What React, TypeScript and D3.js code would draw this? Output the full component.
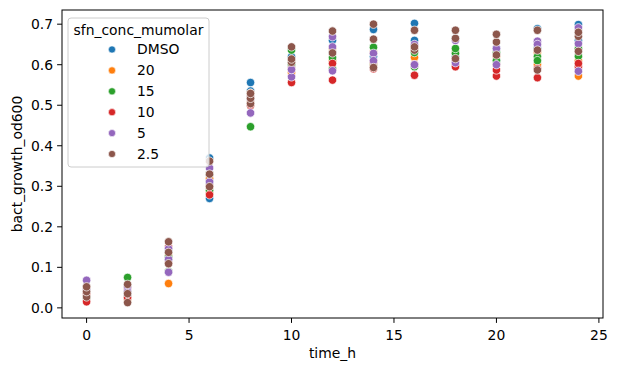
import React from "react";
import * as d3 from "d3";

// sampling times (h)
const times = [0, 2, 4, 6, 8, 10, 12, 14, 16, 18, 20, 22, 24];

// legend order = hue order
const groups = ["DMSO", "20", "15", "10", "5", "2.5"];
const colors = ["#1f77b4", "#ff7f0e", "#2ca02c", "#d62728", "#9467bd", "#8c564b"];

// replicate OD600 readings, one inner list per time point
const dmso = [
  [0.03, 0.045], [0.03, 0.05], [0.12, 0.14], [0.27, 0.37, 0.31], [0.556, 0.535, 0.52],
  [0.6, 0.62], [0.63, 0.66], [0.687, 0.62], [0.702, 0.66], [0.665, 0.62],
  [0.64, 0.61], [0.689, 0.64], [0.699, 0.66],
];
const conc20 = [
  [0.035, 0.05], [0.02, 0.045], [0.06, 0.13], [0.285, 0.32], [0.51, 0.53],
  [0.58, 0.61], [0.61, 0.64], [0.6, 0.63], [0.618, 0.64], [0.6, 0.63],
  [0.6, 0.62], [0.6, 0.63], [0.572, 0.61],
];
const conc15 = [
  [0.025, 0.04], [0.075, 0.04], [0.09, 0.125], [0.29, 0.33], [0.447, 0.5],
  [0.636, 0.6], [0.617, 0.59], [0.643, 0.605], [0.595, 0.63], [0.628, 0.64],
  [0.61, 0.63], [0.62, 0.61], [0.621, 0.64],
];
const conc10 = [
  [0.015, 0.035], [0.025, 0.05], [0.11, 0.15], [0.279, 0.3], [0.5, 0.52],
  [0.556, 0.59], [0.562, 0.603], [0.59, 0.607], [0.574, 0.6], [0.595, 0.61],
  [0.572, 0.587], [0.568, 0.59], [0.595, 0.603],
];
const conc5 = [
  [0.068, 0.045], [0.052, 0.04], [0.088, 0.146, 0.12], [0.311, 0.345], [0.481, 0.515],
  [0.57, 0.588], [0.585, 0.644, 0.669], [0.628, 0.61], [0.6, 0.65], [0.605, 0.66],
  [0.6, 0.64], [0.658, 0.65], [0.584, 0.652, 0.691],
];
const conc2_5 = [
  [0.027, 0.04, 0.052], [0.013, 0.035, 0.058], [0.109, 0.137, 0.163], [0.299, 0.33, 0.362],
  [0.504, 0.517, 0.529], [0.606, 0.614, 0.644], [0.629, 0.683], [0.593, 0.663, 0.7],
  [0.636, 0.644, 0.685], [0.615, 0.665, 0.685], [0.624, 0.656, 0.675], [0.587, 0.636, 0.685],
  [0.633, 0.67, 0.68],
];
const series = [dmso, conc20, conc15, conc10, conc5, conc2_5];

const xTicks = [0, 5, 10, 15, 20, 25];
const yTicks = [0.0, 0.1, 0.2, 0.3, 0.4, 0.5, 0.6, 0.7];

const W = 618;
const H = 371;
const m = { left: 62, right: 603, top: 10, bottom: 318 };
const font = "DejaVu Sans, sans-serif";

export default function App() {
  const x = d3.scaleLinear().domain([-1.2, 25.2]).range([m.left, m.right]);
  const y = d3.scaleLinear().domain([-0.025, 0.735]).range([m.bottom, m.top]);

  const points: { t: number; v: number; g: number }[] = [];
  times.forEach((t, ti) => {
    series.forEach((s, gi) => {
      s[ti].forEach((v) => points.push({ t, v, g: gi }));
    });
  });

  return (
    <svg
      width={W}
      height={H}
      style={{ position: "absolute", left: 0, top: 0, fontFamily: font }}
    >
      <rect width={W} height={H} fill="#fff" />
      {points.map((p, i) => (
        <circle
          key={i}
          cx={x(p.t)}
          cy={y(p.v)}
          r={4.2}
          fill={colors[p.g]}
          stroke="#fff"
          strokeWidth={0.7}
        />
      ))}
      <rect
        x={m.left}
        y={m.top}
        width={m.right - m.left}
        height={m.bottom - m.top}
        fill="none"
        stroke="#000"
        strokeWidth={1}
      />
      {xTicks.map((t) => (
        <g key={t} transform={`translate(${x(t)},${m.bottom})`}>
          <line y2={4.9} stroke="#000" />
          <text y={18} textAnchor="middle" fontSize={13.9} dy="0.3em">
            {t}
          </text>
        </g>
      ))}
      {yTicks.map((t) => (
        <g key={t} transform={`translate(${m.left},${y(t)})`}>
          <line x2={-4.9} stroke="#000" />
          <text x={-9} textAnchor="end" fontSize={13.9} dy="0.35em">
            {t.toFixed(1)}
          </text>
        </g>
      ))}
      <text x={(m.left + m.right) / 2} y={358} textAnchor="middle" fontSize={13.9}>
        time_h
      </text>
      <text
        transform={`translate(22,${(m.top + m.bottom) / 2}) rotate(-90)`}
        textAnchor="middle"
        fontSize={13.9}
      >
        bact_growth_od600
      </text>
      <g>
        <rect
          x={68}
          y={18}
          width={141}
          height={149}
          rx={3}
          fill="#fff"
          fillOpacity={0.8}
          stroke="#cccccc"
        />
        <text x={138.5} y={35} textAnchor="middle" fontSize={13.9}>
          sfn_conc_mumolar
        </text>
        {groups.map((g, i) => (
          <g key={g} transform={`translate(0,${49.5 + i * 20.9})`}>
            <circle cx={112} r={3.6} fill={colors[i]} stroke="#fff" strokeWidth={0.6} />
            <text x={137} dy="0.35em" fontSize={13.9}>
              {g}
            </text>
          </g>
        ))}
      </g>
    </svg>
  );
}
